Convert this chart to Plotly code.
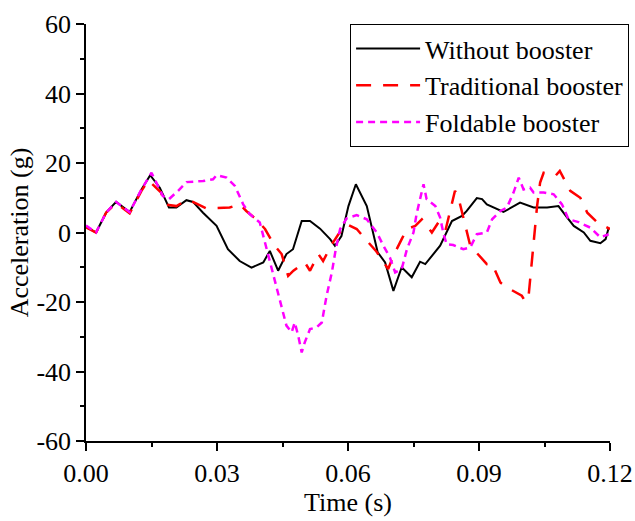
import plotly.graph_objects as go

# Time in milliseconds (converted to seconds below), acceleration in g
t_without = [0, 2.3, 4.6, 6.9, 10.0, 12.7, 14.7, 16.9, 19.0, 20.7, 23.0, 24.5, 26.8, 29.9, 32.5, 35.2,
             37.9, 40.6, 42.1, 44.0, 45.9, 47.4, 49.4, 51.3, 53.6, 55.9, 57.0, 58.5, 60.1, 61.8, 64.3,
             66.8, 68.5, 70.4, 72.3, 74.6, 76.5, 77.7, 81.1, 83.8, 86.1, 87.2, 89.5, 90.7, 91.8, 94.1,
             95.6, 99.4, 102.5, 105.6, 108.2, 110.2, 111.7, 114.0, 115.5, 117.8, 119.0, 119.7]
a_without = [1.7, 0, 5.7, 8.8, 5.9, 12.4, 16.5, 12.9, 7.2, 7.2, 9.3, 8.8, 5.7, 1.9, -4.8, -8.2,
             -10.1, -8.6, -5.3, -11, -6.2, -4.8, 3.3, 3.3, 1.1, -1.9, -3.8, -1, 7.6, 13.9, 7.6,
             -5.7, -8.6, -16.8, -10, -12.9, -8.4, -9.1, -3.8, 3.3, 4.8, 6.2, 9.9, 9.6, 8.1, 6.7,
             5.9, 8.6, 7.2, 7.2, 7.6, 4.3, 1.9, 0, -2.4, -3.1, -1.9, 1.4]

t_trad = [0, 2.3, 4.6, 6.9, 10.0, 12.7, 14.3, 17.2, 18.0, 20.7, 23.0, 24.5, 27.6, 32.9, 35.2, 36.7,
          39.0, 41.0, 43.2, 44.8, 46.3, 47.5, 50.1, 51.3, 53.2, 54.3, 56.3, 57.8, 59.7, 62.0, 64.7,
          66.4, 69.2, 70.4, 72.3, 73.5, 75.4, 76.9, 79.2, 80.7, 82.3, 83.3, 84.5, 85.3, 86.4, 88.0,
          91.8, 93.0, 94.9, 96.4, 99.8, 100.6, 101.4, 102.5, 103.3, 104.0, 104.8, 107.5, 108.5,
          110.9, 113.2, 114.8, 117.0, 120.0]
a_trad = [1.5, 0, 5.7, 8.5, 5.5, 12, 15, 11.5, 8.1, 7.6, 9.3, 8.8, 6.9, 7.2, 8.1, 6.2,
          3.8, 1, -3.8, -6.2, -12.5, -11, -8.6, -11, -6.2, -8.2, -3.4, -0.5, 2.4, 1, -2.9,
          -5.3, -10.5, -6.7, -1.9, 1, 1.9, 3.8, 0, 2.9, 0.5, 6, 12, 10, 4, -3.8,
          -9.1, -9, -14.4, -15.8, -18.2, -19.9, -17.7, -1.9, 7.6, 14.4, 17.2, 16.3, 17.7,
          12, 10, 5.7, 3, 1]

t_fold = [0, 2.3, 4.6, 6.9, 10.0, 12.7, 15.0, 17.6, 19.0, 21.1, 23.0, 26.8, 29.1, 29.9, 32.2, 34.1,
          36.0, 37.5, 39.8, 40.6, 41.7, 42.9, 44.0, 45.1, 45.9, 47.1, 47.8, 48.6, 49.4, 50.1, 51.3,
          52.8, 54.0, 55.1, 56.3, 57.2, 58.2, 59.7, 62.0, 64.3, 66.6, 68.1, 69.6, 70.8, 72.3, 73.5,
          75.0, 75.7, 76.5, 77.3, 78.0, 80.0, 81.1, 81.9, 82.6, 84.1, 86.4, 88.0, 89.5, 91.8, 93.0,
          94.9, 96.4, 97.9, 99.1, 100.2, 101.7, 102.5, 104.8, 107.1, 109.0, 110.5, 112.8, 115.5,
          117.8, 119.7]
a_fold = [2, 0, 5.7, 8.8, 5.9, 12.4, 17.2, 10.5, 9.6, 12, 14.5, 14.8, 15.3, 16.5, 15.8, 13.4,
          8.1, 5.3, 2.9, -1, -5.7, -11.5, -17.2, -23, -26.8, -28.7, -25.9, -29.7, -34.5, -31.6, -27.8,
          -27.3, -25.9, -18.2, -11.5, -4.8, 1, 4.1, 5, 3.8, 0, -3.8, -7.2, -11.5, -10.5, -4.8,
          0, 5.3, 10, 13.9, 9.6, 7.6, 4.3, -0.5, -3.4, -3.6, -4.8, -4.3, -0.5, 0, 3.8,
          6.2, 7.2, 11.5, 15.8, 12.4, 12.9, 11.5, 11.5, 11, 8.1, 3.8, 3, 1.4,
          -1.4, -0.5]

series_names = ["Without booster", "Traditional booster", "Foldable booster"]
x_ticks = [0.00, 0.03, 0.06, 0.09, 0.12]
y_ticks = [-60, -40, -20, 0, 20, 40, 60]

FONT = "Liberation Serif, Times New Roman, serif"

fig = go.Figure()
fig.add_trace(go.Scatter(x=[v / 1000 for v in t_without], y=a_without, mode="lines",
                         name=series_names[0], line=dict(color="#000000", width=2)))
fig.add_trace(go.Scatter(x=[v / 1000 for v in t_trad], y=a_trad, mode="lines",
                         name=series_names[1], line=dict(color="#FF0000", width=2.5, dash="15px,12px")))
fig.add_trace(go.Scatter(x=[v / 1000 for v in t_fold], y=a_fold, mode="lines",
                         name=series_names[2], line=dict(color="#FF00FF", width=2.5, dash="7px,5px")))

axis_common = dict(showline=True, linecolor="black", linewidth=1.5, showgrid=False, zeroline=False,
                   ticks="outside", ticklen=8, tickwidth=1.5, tickcolor="black",
                   tickfont=dict(family=FONT, size=26, color="black"), mirror=False)

fig.update_xaxes(range=[0, 0.12], tickvals=x_ticks, ticktext=[f"{v:.2f}" for v in x_ticks],
                 title=dict(text="Time (s)", font=dict(family=FONT, size=26, color="black"), standoff=4),
                 minor=dict(tickvals=[0.015, 0.045, 0.075, 0.105], ticklen=4, tickwidth=1.5,
                            tickcolor="black", ticks="outside"),
                 **axis_common)
fig.update_yaxes(range=[-60, 60], tickvals=y_ticks, ticktext=[str(v) for v in y_ticks],
                 title=dict(text="Acceleration (g)", font=dict(family=FONT, size=26, color="black"), standoff=0),
                 minor=dict(dtick=10, ticklen=4, tickwidth=1.5, tickcolor="black", ticks="outside"),
                 **axis_common)

fig.update_layout(
    width=635, height=521,
    margin=dict(l=86, r=25, t=24, b=80, autoexpand=False),
    paper_bgcolor="white", plot_bgcolor="white",
    font=dict(family=FONT, size=26, color="black"),
    legend=dict(x=0.504, y=1.0, xanchor="left", yanchor="top",
                bordercolor="black", borderwidth=1, bgcolor="white",
                font=dict(family=FONT, size=26, color="black"),
                itemwidth=64, tracegroupgap=0),
    showlegend=True,
)

fig.write_html("out.html")
